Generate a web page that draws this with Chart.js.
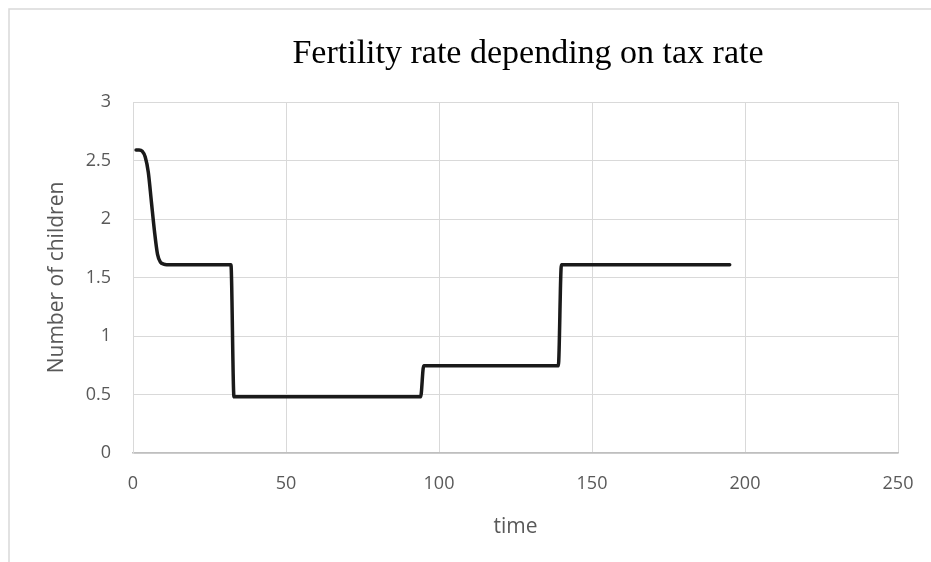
<!DOCTYPE html>
<html>
<head>
<meta charset="utf-8">
<script src="https://cdn.jsdelivr.net/npm/chart.js@4/dist/chart.umd.min.js"></script>
<style>
  html, body { margin: 0; padding: 0; background: #ffffff; }
  #wrap { position: relative; width: 931px; height: 562px; }
</style>
</head>
<body>
<div id="wrap"><canvas id="chart" width="931" height="562"></canvas></div>
<script>
// Simulated fertility (children per woman) over time under changing tax rates
const chartTitle = 'Fertility rate depending on tax rate';
const xAxisTitle = 'time';
const yAxisTitle = 'Number of children';

const time     = [1, 2, 3, 4, 5, 6, 7, 8, 9, 10, 11, 12, 32, 33, 94, 95, 139, 140, 195];
const children = [2.59, 2.59, 2.58, 2.53, 2.40, 2.15, 1.90, 1.70, 1.63, 1.615, 1.61, 1.61,
                  1.61, 0.48, 0.48, 0.745, 0.745, 1.61, 1.61];

const xTicks = [0, 50, 100, 150, 200, 250];
const yTicks = [0, 0.5, 1, 1.5, 2, 2.5, 3];

const points = time.map((t, i) => ({ x: t, y: children[i] }));

const labelFont = "'Open Sans', 'Liberation Sans', sans-serif";
const textGray = '#595959';
const gridGray = '#d9d9d9';

// Outer chart frame and the centred serif title
const framePlugin = {
  id: 'frameAndTitle',
  beforeDraw(chart) {
    const ctx = chart.ctx;
    ctx.save();
    ctx.strokeStyle = gridGray;
    ctx.lineWidth = 1.5;
    ctx.beginPath();
    ctx.moveTo(9, chart.height + 5);
    ctx.lineTo(9, 9);
    ctx.lineTo(chart.width + 5, 9);
    ctx.stroke();
    ctx.restore();
  },
  afterDraw(chart) {
    const ctx = chart.ctx;
    ctx.save();
    ctx.fillStyle = '#000000';
    ctx.font = "34px 'Liberation Serif', 'DejaVu Serif', serif";
    ctx.textAlign = 'center';
    ctx.textBaseline = 'middle';
    ctx.fillText(chartTitle, 528, 54);
    ctx.restore();
  }
};

new Chart(document.getElementById('chart'), {
  type: 'scatter',
  data: {
    datasets: [{
      data: points,
      showLine: true,
      borderColor: '#1a1a1a',
      borderWidth: 3.5,
      pointRadius: 0,
      pointHoverRadius: 0,
      cubicInterpolationMode: 'monotone',
      borderCapStyle: 'round',
      borderJoinStyle: 'round'
    }]
  },
  options: {
    responsive: false,
    animation: false,
    layout: { padding: { top: 102, right: 33, bottom: 0, left: 0 } },
    plugins: {
      legend: { display: false },
      tooltip: { enabled: false },
      title: { display: false }
    },
    scales: {
      x: {
        type: 'linear',
        min: 0,
        max: 250,
        afterBuildTicks(scale) { scale.ticks = xTicks.map(v => ({ value: v })); },
        afterFit(scale) {
          scale.height = 562 - 453;
          scale.paddingLeft = 0;
          scale.paddingRight = 0;
        },
        grid: { color: gridGray, lineWidth: 1, drawTicks: false },
        border: { color: '#bfbfbf', width: 1.5 },
        ticks: {
          color: textGray,
          padding: 20,
          maxRotation: 0,
          font: { family: labelFont, size: 18 },
          callback: v => String(v)
        },
        title: {
          display: true,
          text: xAxisTitle,
          color: textGray,
          font: { family: labelFont, size: 21 },
          padding: { top: 0, bottom: 22 }
        }
      },
      y: {
        type: 'linear',
        min: 0,
        max: 3,
        afterBuildTicks(scale) { scale.ticks = yTicks.map(v => ({ value: v })); },
        afterFit(scale) {
          scale.width = 133;
          scale.paddingTop = 0;
          scale.paddingBottom = 0;
        },
        grid: { color: gridGray, lineWidth: 1, drawTicks: false },
        border: { color: gridGray, width: 1 },
        ticks: {
          color: textGray,
          padding: 22,
          font: { family: labelFont, size: 18 },
          callback: v => String(v)
        },
        title: {
          display: true,
          text: yAxisTitle,
          color: textGray,
          font: { family: labelFont, size: 21 },
          padding: { top: 44, bottom: 0 }
        }
      }
    }
  },
  plugins: [framePlugin]
});
</script>
</body>
</html>
